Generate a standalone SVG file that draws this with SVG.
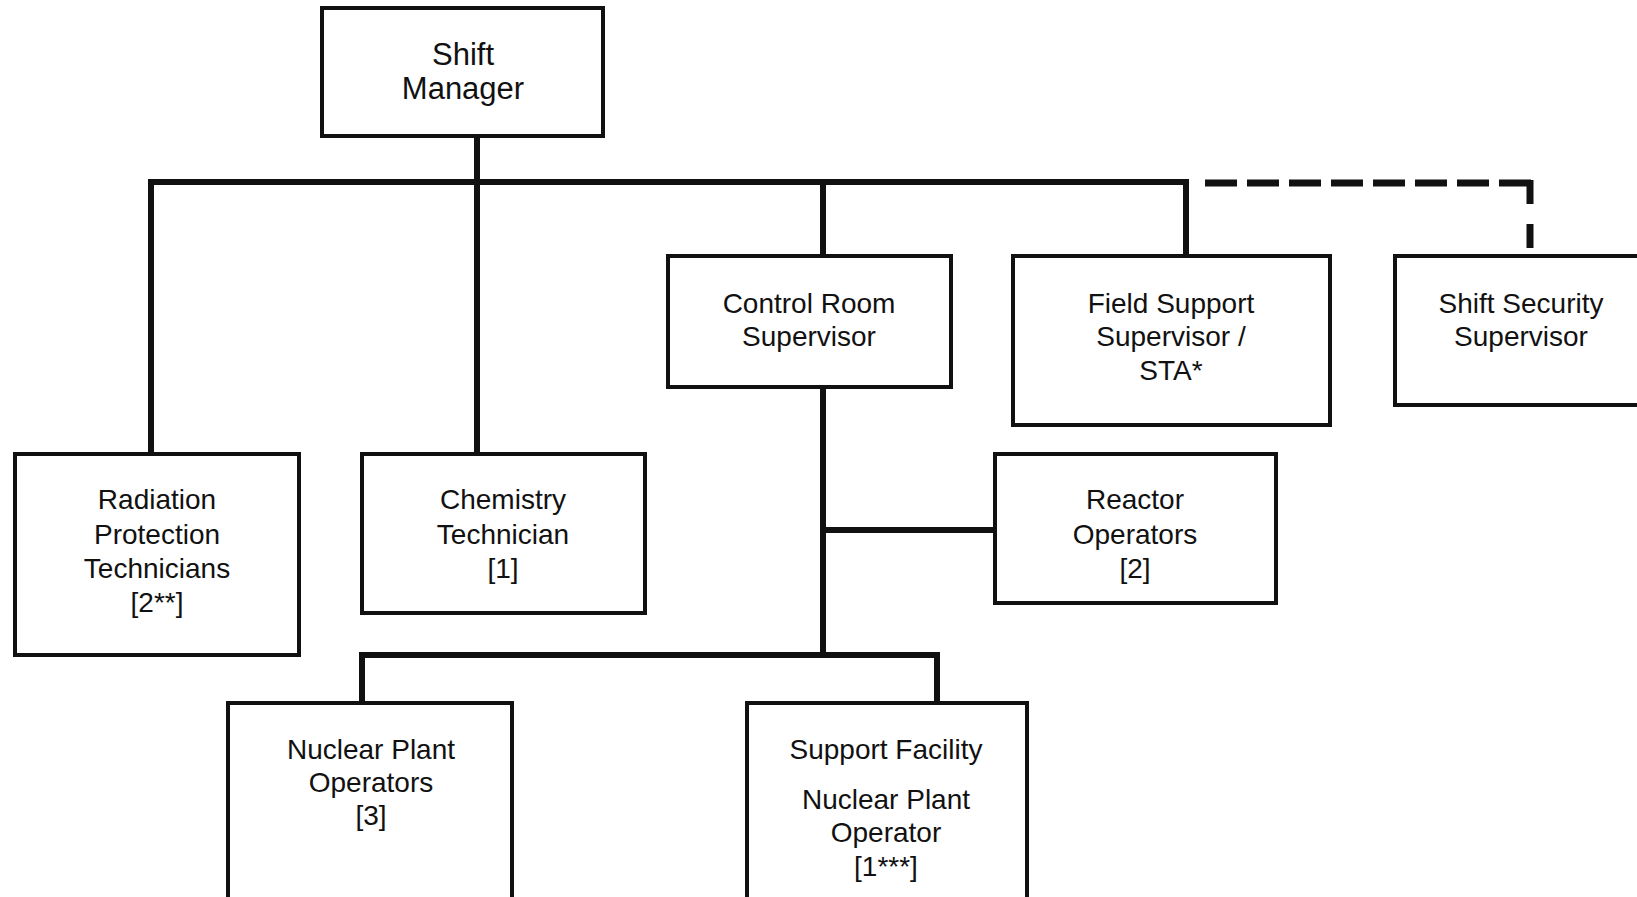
<svg xmlns="http://www.w3.org/2000/svg" width="1637" height="897" viewBox="0 0 1637 897">
<style>
.box{fill:#fff;stroke:#111;stroke-width:4}
.ln{fill:none;stroke:#111;stroke-width:6;stroke-linecap:square}
.dash{fill:none;stroke:#111;stroke-width:7}
text{font-family:"Liberation Sans",Arial,sans-serif;font-size:28px;fill:#111;text-anchor:middle}
.big{font-size:31px}
</style>
<rect width="1637" height="897" fill="#fff"/>
<g id="connectors">
<path class="ln" d="M477,136 V182 M151,182 H1186 M151,182 V454 M477,182 V454 M823,182 V256 M1186,182 V256"/>
<path class="ln" d="M823,387 V655 M823,530 H995 M362,655 H937 M362,655 V703 M937,655 V703"/>
<path class="dash" d="M1205,183 H1533" stroke-dasharray="32 10"/>
<path class="dash" d="M1530,180 V248" stroke-dasharray="24 20"/>
</g>
<g id="shift-manager">
<rect class="box" x="322" y="8" width="281" height="128"/>
<text class="big" x="463" y="65">Shift</text>
<text class="big" x="463" y="99">Manager</text>
</g>
<g id="control-room-supervisor">
<rect class="box" x="668" y="256" width="283" height="131"/>
<text x="809" y="313">Control Room</text>
<text x="809" y="346">Supervisor</text>
</g>
<g id="field-support-supervisor">
<rect class="box" x="1013" y="256" width="317" height="169"/>
<text x="1171" y="313">Field Support</text>
<text x="1171" y="346">Supervisor /</text>
<text x="1171" y="380">STA*</text>
</g>
<g id="shift-security-supervisor">
<rect class="box" x="1395" y="256" width="260" height="149"/>
<text x="1521" y="313">Shift Security</text>
<text x="1521" y="346">Supervisor</text>
</g>
<g id="radiation-protection">
<rect class="box" x="15" y="454" width="284" height="201"/>
<text x="157" y="509">Radiation</text>
<text x="157" y="544">Protection</text>
<text x="157" y="578">Technicians</text>
<text x="157" y="612">[2**]</text>
</g>
<g id="chemistry-technician">
<rect class="box" x="362" y="454" width="283" height="159"/>
<text x="503" y="509">Chemistry</text>
<text x="503" y="544">Technician</text>
<text x="503" y="578">[1]</text>
</g>
<g id="reactor-operators">
<rect class="box" x="995" y="454" width="281" height="149"/>
<text x="1135" y="509">Reactor</text>
<text x="1135" y="544">Operators</text>
<text x="1135" y="578">[2]</text>
</g>
<g id="nuclear-plant-operators">
<rect class="box" x="228" y="703" width="284" height="204"/>
<text x="371" y="759">Nuclear Plant</text>
<text x="371" y="792">Operators</text>
<text x="371" y="825">[3]</text>
</g>
<g id="support-facility-npo">
<rect class="box" x="747" y="703" width="280" height="204"/>
<text x="886" y="759">Support Facility</text>
<text x="886" y="809">Nuclear Plant</text>
<text x="886" y="842">Operator</text>
<text x="886" y="876">[1***]</text>
</g>
</svg>
